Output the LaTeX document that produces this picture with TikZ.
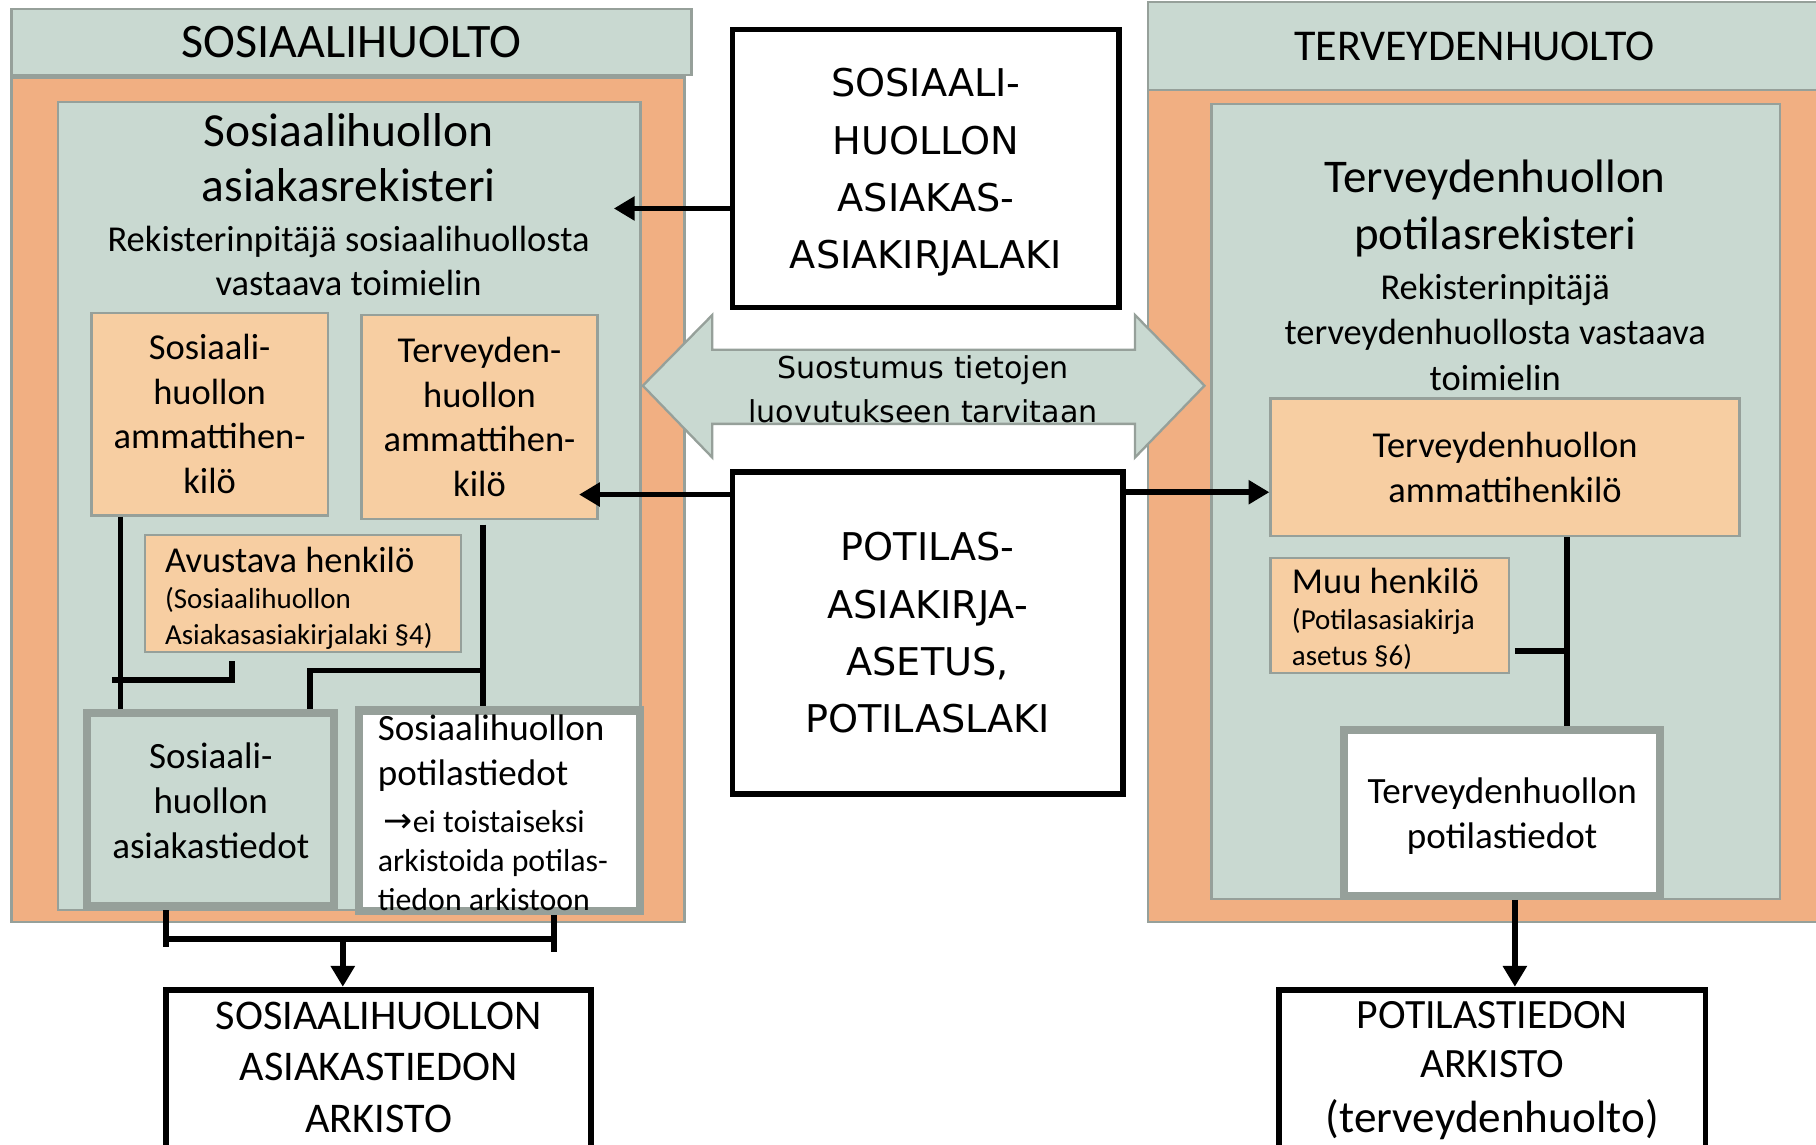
\documentclass[tikz,border=0pt]{standalone}
\usepackage{fontspec}
\setmainfont{Carlito}
\newfontfamily\verd{DejaVu Sans}
\usetikzlibrary{arrows.meta}

\definecolor{sagegreen}{RGB}{201,217,209}
\definecolor{salmon}{RGB}{241,175,130}
\definecolor{peach}{RGB}{247,206,162}
\definecolor{edgegray}{RGB}{150,160,154}

\newcommand{\fs}[2]{\fontsize{#1}{#2}\selectfont}

\begin{document}
\begin{tikzpicture}[x=1pt,y=-1pt,
	band/.style={draw=edgegray,line width=2pt,fill=sagegreen,inner sep=0pt},
	outer/.style={draw=edgegray,line width=2pt,fill=salmon,inner sep=0pt},
	regbox/.style={draw=edgegray,line width=2pt,fill=sagegreen,inner sep=0pt},
	person/.style={draw=edgegray,line width=2pt,fill=peach,inner sep=0pt,align=center,font=\fs{31.5}{38.5}},
	datbox/.style={draw=edgegray,line width=7pt,inner sep=0pt,align=center},
	lawbox/.style={draw=black,line width=5pt,fill=white,inner sep=0pt,align=center,font=\verd\fs{33}{49.5}},
	archbox/.style={draw=black,line width=5pt,fill=white,inner sep=0pt,align=center},
	conn/.style={line width=5pt},
	arr/.style={line width=5pt,-{Triangle[length=18pt,width=20pt]}}]

	\clip (0,0) rectangle (1568,988);
	\fill[white] (0,0) rectangle (1568,988);

	% sosiaalihuolto
	\node[band,minimum width=587,minimum height=57,font=\fs{41.5}{48}] (shead) at (303.5,36.5) {SOSIAALIHUOLTO};
	\node[outer,minimum width=581,minimum height=729] (sorg) at (300.5,431.5) {};
	\node[regbox,minimum width=503,minimum height=698] (sreg) at (301.5,437) {};
	\node[align=center,font=\fs{41}{48}] (sttl) at (301,136) {Sosiaalihuollon\\asiakasrekisteri};
	\node[align=center,font=\fs{31.5}{38}] (ssub) at (301,225) {Rekisterinpitäjä sosiaalihuollosta\\vastaava toimielin};

	\node[person,minimum width=204,minimum height=175] (ssam) at (181,357.5) {Sosiaali-\\huollon\\ammattihen-\\kilö};
	\node[person,minimum width=204,minimum height=176] (ster) at (414,360) {Terveyden-\\huollon\\ammattihen-\\kilö};
	\node[person,minimum width=273,minimum height=101] (savu) at (261.5,512.5) {};
	\node[anchor=west,align=left,font=\fs{25}{31}] (savut) at ([xshift=15pt,yshift=-4pt]savu.west)
		{{\fs{31.5}{38}Avustava henkilö}\\(Sosiaalihuollon\\Asiakasasiakirjalaki §4)};

	\node[datbox,fill=sagegreen,minimum width=213,minimum height=167,text depth=16pt,font=\fs{32}{39}] (sat) at (182,699) {Sosiaali-\\huollon\\asiakastiedot};
	\node[datbox,fill=white,minimum width=242.5,minimum height=173] (spt) at (431,700) {};
	\node[anchor=west,align=left,font=\fs{27.5}{34}] (sptt) at ([xshift=16.5pt,yshift=-2pt]spt.west)
		{{\fs{32}{39}Sosiaalihuollon}\\[5pt]{\fs{32}{39}potilastiedot}\\[6pt]\hspace{5pt}{\verd\fs{30}{34}→}ei toistaiseksi\\arkistoida potilas-\\tiedon arkistoon};

	\node[archbox,minimum width=367,minimum height=150,text depth=16pt,font=\fs{36.5}{44.5}] (sarch) at (327,929.5) {SOSIAALIHUOLLON\\ASIAKASTIEDON\\ARKISTO};

	% lait
	\node[lawbox,minimum width=334,minimum height=240,text depth=-8pt] (law1) at (799.5,145.5) {SOSIAALI-\\HUOLLON\\ASIAKAS-\\ASIAKIRJALAKI};
	\node[lawbox,minimum width=337,minimum height=278] (law2) at (801,546.5) {POTILAS-\\ASIAKIRJA-\\ASETUS,\\POTILASLAKI};

	% terveydenhuolto
	\node[band,minimum width=609,minimum height=76] (thead) at (1295.5,40) {};
	\node[font=\fs{38}{46}] (thtxt) at (1273,40) {TERVEYDENHUOLTO};
	\node[outer,minimum width=609,minimum height=718] (torg) at (1295.5,437) {};
	\node[regbox,minimum width=491,minimum height=686] (treg) at (1291.5,433) {};
	\node[align=center,font=\fs{40.5}{50}] (tttl) at (1291,180) {Terveydenhuollon\\potilasrekisteri};
	\node[align=center,font=\fs{31.5}{39}] (tsub) at (1291,287) {Rekisterinpitäjä\\terveydenhuollosta vastaava\\toimielin};

	\node[person,minimum width=405,minimum height=119] (tam) at (1299.5,403.5) {Terveydenhuollon\\ammattihenkilö};
	\node[person,minimum width=206,minimum height=99] (tmuu) at (1200,531.5) {};
	\node[anchor=west,align=left,font=\fs{25}{31}] (tmuut) at ([xshift=16pt,yshift=-3pt]tmuu.west)
		{{\fs{31.5}{38}Muu henkilö}\\(Potilasasiakirja\\asetus §6)};

	\node[datbox,fill=white,minimum width=273,minimum height=143,text depth=0pt,font=\fs{32}{38.5}] (tpt) at (1297,702) {Terveydenhuollon\\potilastiedot};
	\node[archbox,minimum width=368,minimum height=150,text depth=17pt,font=\fs{36}{43}] (tarch) at (1288.5,929.5)
		{POTILASTIEDON\\ARKISTO\\[4pt]{\fs{39}{47}(terveydenhuolto)}};

	% suostumus
	\filldraw[fill=sagegreen,draw=edgegray,line width=2pt] (555,333) -- (615,272) -- (615,302) -- (980,302) -- (980,272)
		-- (1040,333) -- (980,395) -- (980,366) -- (615,366) -- (615,395) -- cycle;
	\begin{scope}
		\clip (600,280) rectangle (1000,366);
		\node[align=center,font=\verd\fs{26}{38}] (cons) at (797,336) {Suostumus tietojen\\luovutukseen tarvitaan};
	\end{scope}

	% nuolet
	\coordinate (stip) at ([xshift=-24pt]sreg.east);
	\coordinate (l1out) at ([yshift=-34.5pt]law1.west);
	\draw[arr] (l1out) -- (l1out -| stip);

	\coordinate (stertip) at ([xshift=-17pt]ster.east);
	\coordinate (l2w) at ([yshift=-22pt]law2.north west);
	\draw[arr] (l2w) -- (l2w -| stertip);

	\coordinate (l2e) at ([yshift=-20pt]law2.north east);
	\draw[arr] (l2e) -- (l2e -| tam.west);

	% kytkennat, sosiaalihuolto
	\coordinate (samdown) at ([xshift=26pt]ssam.south west);
	\draw[conn] (samdown) -- (samdown |- sat.north);

	\coordinate (avuend) at (97,587);
	\draw[conn] ([xshift=76pt,yshift=-7pt]savu.south west) |- (avuend);

	\coordinate (tersdown) at ([xshift=106pt,yshift=-4pt]ster.south west);
	\coordinate (sjoin) at ([yshift=-126pt]tersdown);
	\draw[conn] (tersdown) -- (tersdown |- spt.north);
	\draw[conn] (sjoin) -| ([xshift=196pt]sat.north west);

	\coordinate (sbrl) at ([xshift=71pt]sat.south west);
	\coordinate (sbrr) at ([xshift=172pt]spt.south west);
	\coordinate (sbrm) at (296,811);
	\draw[conn] (sbrl) -- ++(0,32);
	\draw[conn] (sbrr) -- ++(0,32);
	\draw[conn] (sbrl |- sbrm) -- (sbrr |- sbrm);
	\draw[arr] (sbrm) -- (sbrm |- sarch.north);

	% kytkennat, terveydenhuolto
	\coordinate (tamdown) at ([xshift=257pt]tam.south west);
	\draw[conn] (tamdown) -- (tamdown |- tpt.north);
	\coordinate (muuout) at ([xshift=4pt,yshift=-30.5pt]tmuu.east);
	\draw[conn] (muuout) -- (muuout -| tamdown);
	\coordinate (tptdown) at ([xshift=151pt]tpt.south west);
	\draw[arr] (tptdown) -- (tptdown |- tarch.north);
\end{tikzpicture}
\end{document}
